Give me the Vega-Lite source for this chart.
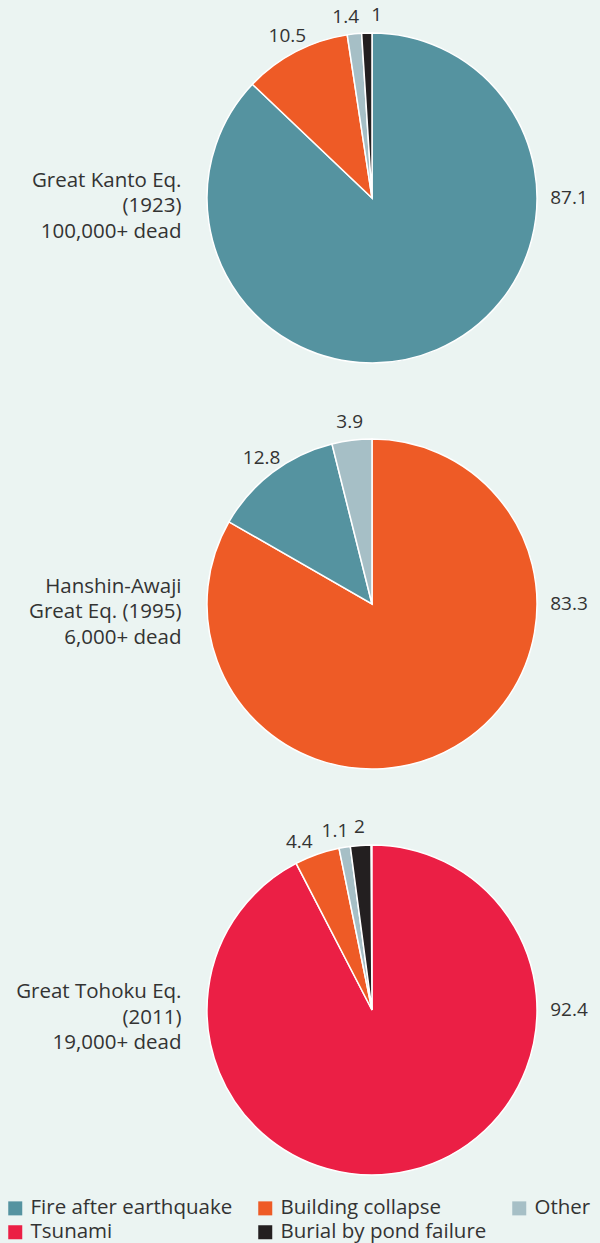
{
  "$schema": "https://vega.github.io/schema/vega-lite/v6.json",
  "background": "#EBF4F2",
  "autosize": {"type": "none"},
  "padding": {"left": 191, "top": 0, "right": 47, "bottom": 35},
  "width": 362,
  "height": 1208,
  "data": {"values": [
    {"quake": "Great Kanto Eq.|(1923)|100,000+ dead", "cause": "Fire after earthquake", "value": 87.1, "ord": 1},
    {"quake": "Great Kanto Eq.|(1923)|100,000+ dead", "cause": "Building collapse", "value": 10.5, "ord": 2},
    {"quake": "Great Kanto Eq.|(1923)|100,000+ dead", "cause": "Other", "value": 1.4, "ord": 3},
    {"quake": "Great Kanto Eq.|(1923)|100,000+ dead", "cause": "Burial by pond failure", "value": 1, "ord": 4},
    {"quake": "Hanshin-Awaji|Great Eq. (1995)|6,000+ dead", "cause": "Building collapse", "value": 83.3, "ord": 1},
    {"quake": "Hanshin-Awaji|Great Eq. (1995)|6,000+ dead", "cause": "Fire after earthquake", "value": 12.8, "ord": 2},
    {"quake": "Hanshin-Awaji|Great Eq. (1995)|6,000+ dead", "cause": "Other", "value": 3.9, "ord": 3},
    {"quake": "Great Tohoku Eq.|(2011)|19,000+ dead", "cause": "Tsunami", "value": 92.4, "ord": 1},
    {"quake": "Great Tohoku Eq.|(2011)|19,000+ dead", "cause": "Building collapse", "value": 4.4, "ord": 2},
    {"quake": "Great Tohoku Eq.|(2011)|19,000+ dead", "cause": "Other", "value": 1.1, "ord": 3},
    {"quake": "Great Tohoku Eq.|(2011)|19,000+ dead", "cause": "Burial by pond failure", "value": 2, "ord": 4}
  ]},
  "transform": [
    {"window": [{"op": "sum", "field": "value", "as": "cum"}], "groupby": ["quake"], "sort": [{"field": "ord"}], "frame": [null, 0]},
    {"calculate": "datum.cum - datum.value", "as": "start"},
    {"calculate": "datum.value > 50 ? 25 : (datum.cum - datum.value / 2) + (datum.value <= 1 ? 0.9 : (datum.value < 2 ? -0.6 : (datum.value > 4 && datum.value < 5 ? -1.1 : 0)))", "as": "lpos"}
  ],
  "encoding": {
    "y": {
      "field": "quake", "type": "nominal",
      "sort": ["Great Kanto Eq.|(1923)|100,000+ dead", "Hanshin-Awaji|Great Eq. (1995)|6,000+ dead", "Great Tohoku Eq.|(2011)|19,000+ dead"],
      "scale": {"type": "point", "padding": 0.4877},
      "axis": {
        "title": null, "ticks": false, "domain": false, "grid": false,
        "labelExpr": "split(datum.label, '|')", "labelAlign": "right", "labelBaseline": "middle",
        "labelFontSize": 20.5, "labelFont": "Open Sans", "labelColor": "#333333",
        "labelLineHeight": 25.5, "labelPadding": 10, "labelLimit": 300, "labelOffset": -18
      }
    }
  },
  "layer": [
    {
      "mark": {"type": "arc", "outerRadius": 165, "stroke": "white", "strokeWidth": 1.5},
      "encoding": {
        "theta": {"field": "start", "type": "quantitative", "stack": null, "scale": {"domain": [0, 100]}},
        "theta2": {"field": "cum"},
        "color": {
          "field": "cause", "type": "nominal",
          "scale": {
            "domain": ["Fire after earthquake", "Building collapse", "Other", "Tsunami", "Burial by pond failure"],
            "range": ["#5593A0", "#EE5B26", "#A6BFC6", "#EB1F45", "#231F20"]
          },
          "legend": {
            "orient": "none", "legendX": -186, "legendY": 1198, "direction": "horizontal",
            "title": null, "columns": 3, "symbolType": "square", "symbolSize": 196,
            "symbolStrokeWidth": 0, "labelFontSize": 20.5, "labelFont": "Open Sans", "labelColor": "#333333",
            "labelLimit": 300, "columnPadding": 22, "rowPadding": 3, "labelOffset": 5
          }
        }
      }
    },
    {
      "transform": [{"filter": "datum.value < 50"}],
      "mark": {"type": "text", "radius": 183, "fontSize": 19, "font": "Open Sans", "color": "#333333"},
      "encoding": {
        "theta": {"field": "lpos", "type": "quantitative", "stack": null},
        "text": {"field": "value", "type": "quantitative"}
      }
    },
    {
      "transform": [{"filter": "datum.value > 50"}],
      "mark": {"type": "text", "radius": 197, "fontSize": 19, "font": "Open Sans", "color": "#333333"},
      "encoding": {
        "theta": {"field": "lpos", "type": "quantitative", "stack": null},
        "text": {"field": "value", "type": "quantitative"}
      }
    }
  ],
  "config": {"view": {"stroke": null}}
}
